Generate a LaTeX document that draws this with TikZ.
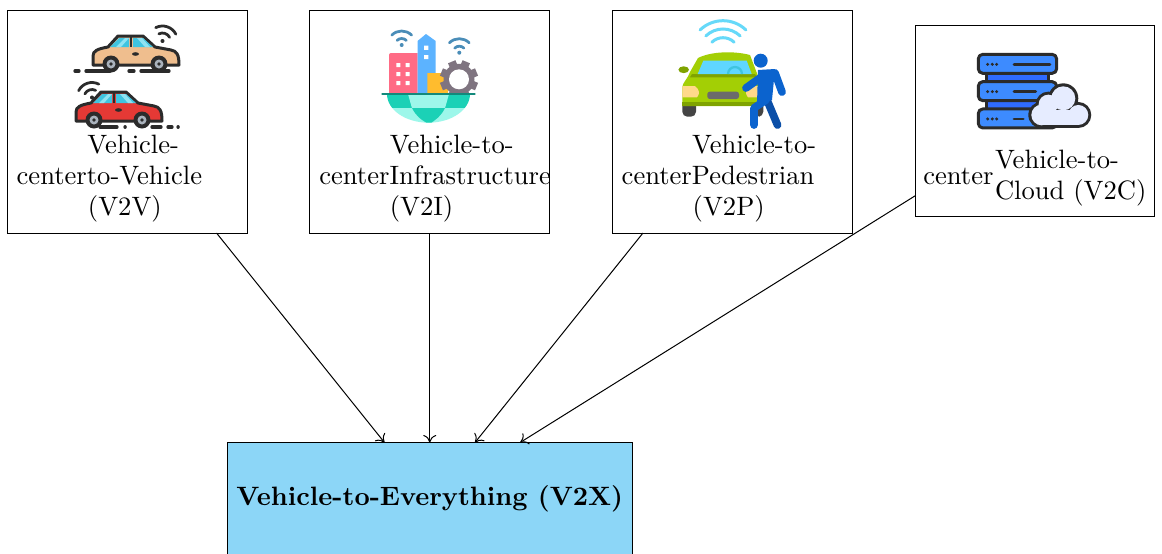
\documentclass[tikz,border=0pt]{standalone}
\usepackage{xcolor}
\usetikzlibrary{arrows.meta}
\definecolor{dk}{HTML}{2B2B2B}
\definecolor{tan1}{HTML}{EFBE8E}
\definecolor{red1}{HTML}{E53935}
\definecolor{win}{HTML}{3FC4E0}
\definecolor{winl}{HTML}{8FE3F2}
\definecolor{wgrey}{HTML}{A9B2BC}
\definecolor{wifid}{HTML}{4A8DB8}
\definecolor{wifil}{HTML}{66D9F9}
\definecolor{v2xblue}{HTML}{8CD6F7}
\definecolor{pinkb}{HTML}{FF6B85}
\definecolor{blueb}{HTML}{5CB3FF}
\definecolor{yellb}{HTML}{FFBC2E}
\definecolor{gearc}{HTML}{7F7480}
\definecolor{tealda}{HTML}{13897B}
\definecolor{teald}{HTML}{1BD1B6}
\definecolor{teall}{HTML}{9DF7EA}
\definecolor{carg}{HTML}{A3CF05}
\definecolor{cargd}{HTML}{7FA300}
\definecolor{winc}{HTML}{5FD6FF}
\definecolor{lampc}{HTML}{FFD98A}
\definecolor{grilc}{HTML}{6B6B6B}
\definecolor{wheelc}{HTML}{444444}
\definecolor{pers}{HTML}{0B63CE}
\definecolor{persd}{HTML}{0B4FA8}
\definecolor{rack}{HTML}{3D8BFF}
\definecolor{rackd}{HTML}{2F6BFF}
\definecolor{cloudc}{HTML}{E6ECFF}
\tikzset{
  card/.style={draw=black,line width=0.4pt,fill=white,inner sep=0pt,outer sep=0pt,minimum width=95.8pt,minimum height=89.2pt},
  v2xbox/.style={draw=black,line width=0.4pt,fill=v2xblue,inner sep=0pt,outer sep=0pt,minimum width=161.8pt,minimum height=45.2pt},
  cardtext/.style={anchor=north west,inner sep=0pt,outer sep=0pt,align=left,font=\fontsize{10.63}{12.45}\selectfont},
  flow/.style={-{Computer Modern Rightarrow[width=5.2pt,length=3pt]},line width=0.4pt,black},
  ol/.style={draw=dk,line width=1.2pt,line join=round,line cap=round}
}
\newcommand{\drawcar}[3]{%
\begin{scope}[shift={(#1,#2)}]
  \path[ol,fill=#3] (93,65) -- (93,56) .. controls (93,51) and (97,49) .. (108,47) -- (118,36) -- (143,36) -- (155,47) -- (171,50) .. controls (177,51) and (179,55) .. (179,65) -- cycle;
  \fill[win] (110,47) -- (119,38) -- (129,38) -- (129,47) -- cycle;
  \fill[win] (133,38) -- (143,38) -- (153,47) -- (133,47) -- cycle;
  \fill[winl] (116,47) -- (125,38) -- (129,38) -- (121,47) -- cycle;
  \fill[winl] (137,38) -- (142,38) -- (150,47) -- (145,47) -- cycle;
  \draw[dk,line width=1.1pt] (131,37) -- (131,47);
  \fill[dk] (135.5,54) ellipse (3.5 and 1.8);
  \foreach \wx in {111,159}{
    \fill[dk] (\wx,64) circle (8.5);
    \fill[wgrey] (\wx,64) circle (4.5);
    \fill[dk] (\wx,64) circle (1.8);
  }
\end{scope}}
\newcommand{\drawwifi}[6]{% x y rot colour r1 r2
\begin{scope}[shift={(#1,#2)},rotate=#3]
  \fill[#4] (0,0) circle (2);
  \draw[#4,line width=1.1pt,line cap=round] (225:#5) arc (225:315:#5);
  \draw[#4,line width=1.1pt,line cap=round] (225:#6) arc (225:315:#6);
\end{scope}}
\begin{document}
\begin{tikzpicture}[x=0.4pt,y=-0.4pt]
\useasboundingbox (0,0) rectangle (1162,554);
\fill[white] (0,0) rectangle (1162,554);
% boxes
\node[card] (v2v) at (127.25,121.5) {};
\node[card] (v2i) at (429.75,121.5) {};
\node[card] (v2p) at (732.25,121.5) {};
\node[card,minimum height=76.4pt] (v2c) at (1035,121) {};
\node[v2xbox,font=\fontsize{10.63}{12}\bfseries] (v2x) at (429.75,499) {Vehicle-to-Everything (V2X)};
% connectors
\draw[flow] (v2v) -- (v2x);
\draw[flow] (v2i) -- (v2x);
\draw[flow] (v2p) -- (v2x);
\draw[flow] (v2c) -- (v2x);
% texts
\node[cardtext] (t1) at (16.7,134.6) {\hspace*{28.3pt}Vehicle-\\centerto-Vehicle\\\hspace*{28.5pt}(V2V)};
\node[cardtext] (t2) at (319.3,134.6) {\hspace*{28.2pt}Vehicle-to-\\centerInfrastructure\\\hspace*{28.2pt}(V2I)};
\node[cardtext] (t3) at (621.7,134.6) {\hspace*{28.2pt}Vehicle-to-\\centerPedestrian\\\hspace*{28.4pt}(V2P)};
\node[cardtext] (t4a) at (923.3,168.6) {center};
\node[cardtext] (t4b) at (995,149.9) {Vehicle-to-\\Cloud (V2C)};
% --- icon 1: cars
\drawcar{0}{0}{tan1}
\drawcar{-17}{56}{red1}
\draw[dk,line width=1.3pt,line cap=round] (75,71) -- (79,71) (86,71) -- (110,71) (129,71) -- (134,71) (141,71) -- (169,71);
\draw[dk,line width=1.3pt,line cap=round] (100,127) -- (117,127) (125,127) -- (125.2,127) (152,127) -- (161,127) (168,127) -- (172,127) (178,127) -- (178.2,127);
\drawwifi{162.5}{41}{-18}{dk}{8}{15}
\drawwifi{92}{97.5}{18}{dk}{8}{15}
% --- icon 2: city
\fill[pinkb] (389,55) arc (180:270:2) -- (417.5,53) -- (417.5,93) -- (389,93) -- cycle;
\fill[white] \foreach \wx in {398.3,407.7}{\foreach \wy in {65,74,83}{(\wx-2,\wy-2) rectangle (\wx+2,\wy+2)}};
\fill[blueb] (417.5,93) -- (417.5,41) -- (426,34) -- (435.7,41) -- (435.7,93) -- cycle;
\fill[white] (424.2,45.6) rectangle (428.4,49.8) (424.2,55) rectangle (428.4,59.2);
\fill[yellb] (427.3,73) -- (443,73) -- (448,80) -- (448,93) -- (427.3,93) -- cycle;
\begin{scope}[shift={(459,79.3)}]
  \fill[gearc] (0,0) circle (15.5);
  \foreach \ga in {0,45,...,315}{\fill[gearc,rotate=\ga+22.5] (-4,-19) rectangle (4,-12);}
  \fill[white] (0,0) circle (10);
\end{scope}
\drawwifi{401.7}{45}{0}{wifid}{6.5}{14}
\drawwifi{459.3}{52.7}{0}{wifid}{6.5}{14}
\begin{scope}
  \clip (387,94) arc (180:0:41.5 and 28.7) -- cycle;
  \fill[teald] (385,94) rectangle (472,108);
  \fill[teall] (385,108) rectangle (472,124);
  \fill[teall] (408,94) -- (449,94) .. controls (447,101) and (446,105) .. (445,108) -- (412,108) .. controls (411,105) and (410,101) .. (408,94) -- cycle;
  \fill[teald] (412,108) -- (445,108) .. controls (441,116) and (436,120) .. (429,124) .. controls (421,120) and (416,116) .. (412,108) -- cycle;
\end{scope}
\draw[tealda,line width=1.1pt,line cap=round] (382.5,94) -- (474.5,94);
% --- icon 3: car and pedestrian
\draw[wifil,line width=1.2pt,line cap=round] (723,53.7) ++(226:33) arc (226:314:33);
\draw[wifil,line width=1.2pt,line cap=round] (723,53.7) ++(226:24.7) arc (226:314:24.7);
\draw[wifil,line width=1.2pt,line cap=round] (723,53.7) ++(226:16) arc (226:314:16);
\fill[wheelc,rounded corners=2pt] (682.3,100) rectangle (696,116.7);
\fill[wheelc,rounded corners=2pt] (755,100) rectangle (763.3,116.7);
\fill[cargd] (683.7,69.7) ellipse (5.3 and 3.4);
\fill[carg] (682.3,106) -- (682.3,87) .. controls (683,82) and (687,80) .. (690,72) -- (698,58) .. controls (712,51) and (735,51) .. (750,55) -- (758,76) -- (763.3,87) -- (763.3,106) -- cycle;
\fill[cargd] (682.3,101.7) rectangle (763.3,106);
\fill[cargd] (692,74) -- (755,74) -- (757,77.3) -- (690,77.3) -- cycle;
\fill[winc] (703.3,60.7) -- (746.7,60.7) -- (751.7,74) -- (697.7,74) -- cycle;
\draw[win,line width=0.9pt] (728,74) arc (180:360:7);
\fill[lampc] (682.3,86) -- (695,86) .. controls (700,90) and (700,94) .. (697,97.3) -- (682.3,97.3) -- cycle;
\fill[lampc] (763.3,86) -- (750,86) .. controls (745,90) and (745,94) .. (748,97.3) -- (763.3,97.3) -- cycle;
\fill[grilc,rounded corners=1pt] (707.3,91.7) rectangle (739,99);
\draw[persd,line width=3.1pt,line cap=round,line join=round] (767,100) -- (777.5,125);
\fill[pers] (758,70) -- (775,69) -- (772,100) -- (757,104) -- cycle;
\draw[pers,line width=3.1pt,line cap=round,line join=round] (775,73) -- (782,92);
\draw[pers,line width=3.1pt,line cap=round,line join=round] (760,78) -- (746,88);
\draw[pers,line width=3.1pt,line cap=round,line join=round] (766,100) -- (754,108) -- (754,125);
\fill[pers] (760.7,60.7) circle (7);
% --- icon 4: servers
\begin{scope}[shift={(905,15)},x=0.1333pt,y=-0.1333pt]
  \fill[rackd] (245,175) rectangle (430,282);
  \draw[dk,line width=1.1pt] (245,175) -- (245,200) (430,175) -- (430,200) (245,257) -- (245,282);
  \foreach \ry/\rl in {118/435,200/392,282/355}{
    \path[ol,fill=rack,rounded corners=1.8pt] (220,\ry) rectangle (455,\ry+57);
    \fill[dk] (248,\ry+30) circle (5) (262,\ry+30) circle (5) (275,\ry+30) circle (5);
    \draw[dk,line width=1.1pt,line cap=round] (327,\ry+30) -- (\rl,\ry+30);
  }
  \draw[dk,line width=1.1pt,line cap=round] (330,257) -- (372,257);
  \foreach \cx/\cy/\cr in {410/300/40,430/268/38,475/250/45,520/300/39}{\fill[dk] (\cx,\cy) circle (\cr);}
  \fill[dk] (410,300) rectangle (520,340);
  \foreach \cx/\cy/\cr in {410/300/31,430/268/29,475/250/36,520/300/30}{\fill[cloudc] (\cx,\cy) circle (\cr);}
  \fill[cloudc] (410,285) rectangle (520,331);
\end{scope}
\end{tikzpicture}
\end{document}
